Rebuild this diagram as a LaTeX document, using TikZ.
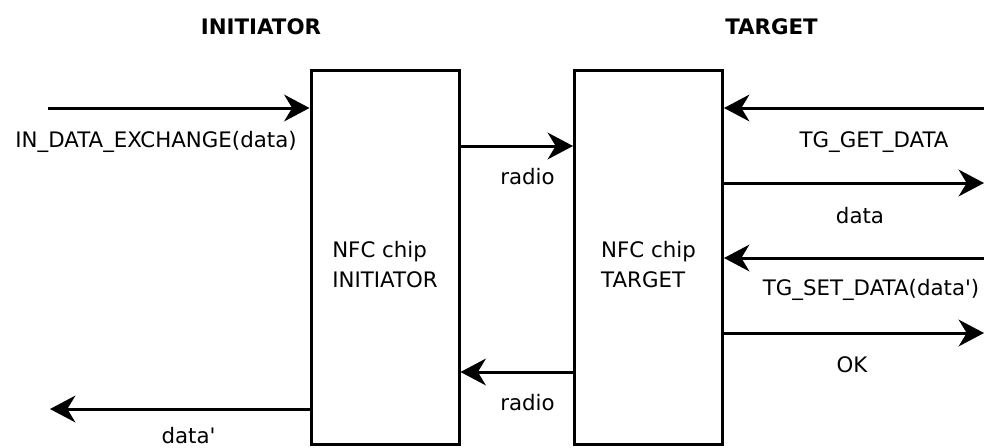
\documentclass[tikz,border=0pt]{standalone}
\usepackage{fontspec}
\setmainfont{DejaVu Sans}
\usepackage{tikz}
\usetikzlibrary{arrows.meta,positioning}

\begin{document}
\begin{tikzpicture}[x=0.75pt,y=-0.75pt, every node/.style={font=\fontsize{16}{22.5}\selectfont},
    chip/.style={draw,line width=2.25pt,minimum width=111pt,minimum height=280.5pt},
    chiptext/.style={align=left,inner sep=0pt},
    lbl/.style={anchor=base,inner sep=0pt},
    side/.style={lbl,font=\fontsize{16}{22.5}\selectfont\bfseries},
    flow/.style={line width=2.25pt,-{Stealth[length=19pt,width=20pt,inset=6pt]}}]
      \useasboundingbox (0,0) rectangle (984,447);
      % the two chips
      \node[chip] (initChip) at (385,257) {};
      \node[chip] (tgtChip) at (648.5,257) {};
      \node[chiptext] (initTxt) at ([yshift=-6pt]initChip.center) {NFC chip\\INITIATOR};
      \node[chiptext] (tgtTxt) at ([yshift=-6pt]tgtChip.center) {NFC chip\\TARGET};
      \node[side] (initHead) at (261,34) {INITIATOR};
      \node[side] (tgtHead) at (771.5,34) {TARGET};
      % free ends of the arrows
      \coordinate (cmdIn) at (48,108);
      \coordinate (dataOut) at (50,409);
      \coordinate (radioFwd) at (0,146);
      \coordinate (radioBack) at (0,372);
      \coordinate (getIn) at (984,108);
      \coordinate (dataRx) at (984,183);
      \coordinate (setIn) at (984,258);
      \coordinate (okOut) at (984,333);
      % initiator side
      \draw[flow] (cmdIn) -- (cmdIn -| initChip.west);
      \draw[flow] (dataOut -| initChip.west) -- (dataOut);
      \node[lbl] (cmdLbl) at (156,147) {IN\_DATA\_EXCHANGE(data)};
      \node[lbl] (dataOutLbl) at (188.5,443) {data\textquotesingle};
      % radio link
      \draw[flow] (radioFwd -| initChip.east) -- (radioFwd -| tgtChip.west);
      \draw[flow] (radioBack -| tgtChip.west) -- (radioBack -| initChip.east);
      \node[lbl] (radioFwdLbl) at (527.5,184) {radio};
      \node[lbl] (radioBackLbl) at (527.5,410) {radio};
      % target side
      \draw[flow] (getIn) -- (getIn -| tgtChip.east);
      \draw[flow] (dataRx -| tgtChip.east) -- (dataRx);
      \draw[flow] (setIn) -- (setIn -| tgtChip.east);
      \draw[flow] (okOut -| tgtChip.east) -- (okOut);
      \node[lbl] (getLbl) at (874,147) {TG\_GET\_DATA};
      \node[lbl] (dataRxLbl) at (860,223) {data};
      \node[lbl] (setLbl) at (871,295) {TG\_SET\_DATA(data\textquotesingle)};
      \node[lbl] (okLbl) at (852,372) {OK};
    \end{tikzpicture}
\end{document}
